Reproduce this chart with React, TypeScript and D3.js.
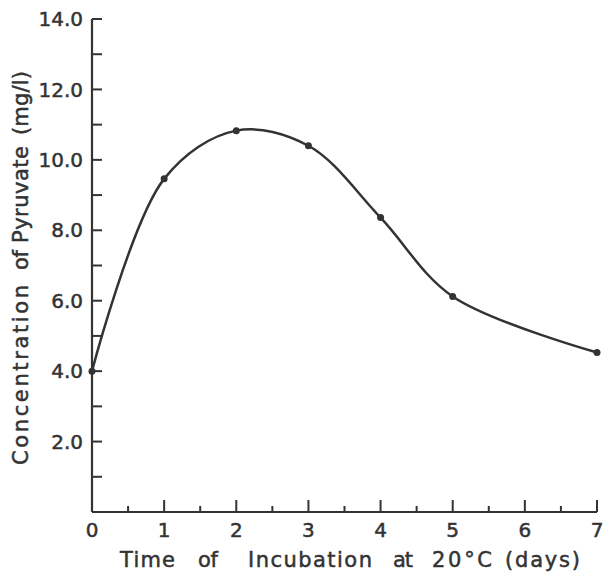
import React from 'react';
import * as d3 from 'd3';

// values
const days = [0, 1, 2, 3, 4, 5, 7];
const pyruvate = [4.0, 9.46, 10.83, 10.4, 8.36, 6.12, 4.53];
const yTickValues = [2, 4, 6, 8, 10, 12, 14];
const xTickValues = [0, 1, 2, 3, 4, 5, 6, 7];

// title words, spaced out like the hand lettering
const xTitleWords = ['Time', 'of', 'Incubation', 'at', '20°C', '(days)'];
const xTitleStart = [120, 198, 248, 393, 432, 505];
const xTitleLen = [55, 20, 124, 20, 60, 75];
const yTitleWords = ['Concentration', 'of', 'Pyruvate', '(mg/l)'];
const yTitleStart = [465, 270, 243, 135];
const yTitleLen = [180, 20, 97, 64];

const ink = '#333';

export default function App() {
  const width = 605;
  const height = 572;

  const x = d3.scaleLinear().domain([0, 7]).range([92, 597]);
  const y = d3.scaleLinear().domain([0, 14]).range([512, 19]);

  const pts = days.map((d, i) => ({ x: d, y: pyruvate[i] }));
  const line = d3
    .line<{ x: number; y: number }>()
    .x(d => x(d.x))
    .y(d => y(d.y))
    .curve(d3.curveCatmullRom.alpha(0.5));

  const yMinor = d3.range(1, 15);
  const xMinor = d3.range(0.5, 7.01, 0.5);

  return (
    <svg
      width={width}
      height={height}
      style={{ position: 'absolute', left: 0, top: 0, background: '#fff' }}
      fontFamily="'DejaVu Sans', sans-serif"
    >
      {/* axes */}
      <line x1={x(0)} x2={x(0)} y1={y(0)} y2={y(14)} stroke={ink} strokeWidth={2.2} />
      <line x1={x(0)} x2={x(7)} y1={y(0)} y2={y(0)} stroke={ink} strokeWidth={2.2} />

      {/* y ticks, pointing inward */}
      {yMinor.map(t => (
        <line key={`yt-${t}`} x1={x(0)} x2={x(0) + 10} y1={y(t)} y2={y(t)} stroke={ink} strokeWidth={2} />
      ))}
      {yTickValues.map(t => (
        <text
          key={`yl-${t}`}
          x={x(0) - 9}
          y={y(t)}
          dy="0.36em"
          textAnchor="end"
          fontSize={20}
          fill={ink}
          stroke={ink}
          strokeWidth={0.5}
        >
          {d3.format('.1f')(t)}
        </text>
      ))}

      {/* x ticks */}
      {xMinor.map(t => {
        const major = Math.abs(t - Math.round(t)) < 1e-6;
        return (
          <line
            key={`xt-${t}`}
            x1={x(t)}
            x2={x(t)}
            y1={y(0)}
            y2={y(0) - (major ? 12 : 6)}
            stroke={ink}
            strokeWidth={2}
          />
        );
      })}
      {xTickValues.map(t => (
        <text
          key={`xl-${t}`}
          x={x(t)}
          y={537}
          textAnchor="middle"
          fontSize={20}
          fill={ink}
          stroke={ink}
          strokeWidth={0.5}
        >
          {t}
        </text>
      ))}

      {/* axis titles */}
      {xTitleWords.map((w, i) => (
        <text
          key={`xw-${i}`}
          x={xTitleStart[i]}
          y={567}
          fontSize={21}
          fill={ink}
          stroke={ink}
          strokeWidth={0.5}
          textLength={xTitleLen[i]}
          lengthAdjust="spacing"
        >
          {w}
        </text>
      ))}
      <g transform="translate(28, 0) rotate(-90)">
        {yTitleWords.map((w, i) => (
          <text
            key={`yw-${i}`}
            x={-yTitleStart[i]}
            y={0}
            fontSize={21}
            fill={ink}
            stroke={ink}
            strokeWidth={0.5}
            textLength={yTitleLen[i]}
            lengthAdjust="spacing"
          >
            {w}
          </text>
        ))}
      </g>

      {/* curve and points */}
      <path d={line(pts) ?? ''} fill="none" stroke={ink} strokeWidth={2.5} />
      {pts.map((d, i) => (
        <circle key={`pt-${i}`} cx={x(d.x)} cy={y(d.y)} r={3.5} fill={ink} />
      ))}
    </svg>
  );
}
